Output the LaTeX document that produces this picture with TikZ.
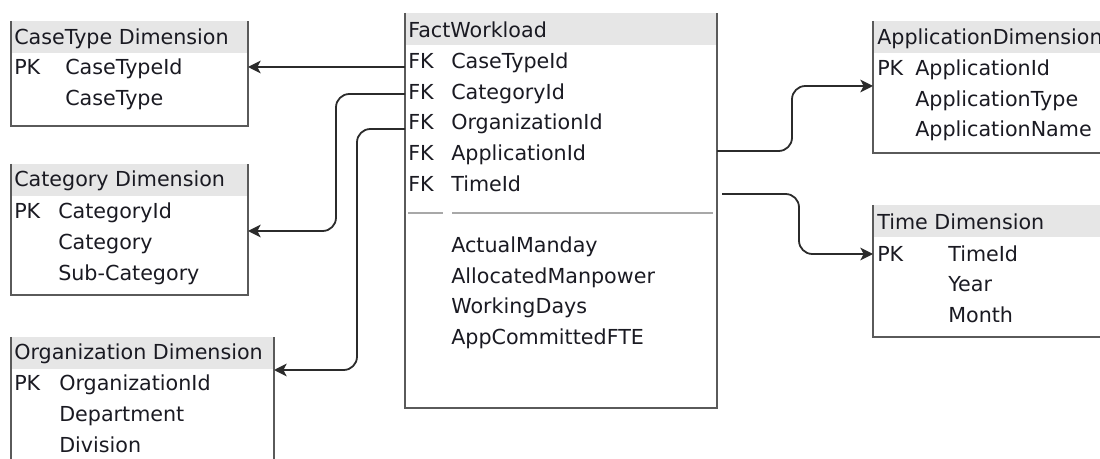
\documentclass[tikz,border=0pt]{standalone}
\usepackage{fontspec}
\setmainfont{DejaVu Sans}
\usetikzlibrary{arrows.meta}
\definecolor{hdr}{HTML}{E6E6E6}
\definecolor{bord}{HTML}{5A5A5A}
\definecolor{connc}{HTML}{2B2B2B}
\definecolor{sepc}{HTML}{A8A8A8}
\definecolor{txtc}{HTML}{1A1A22}
\begin{document}
\begin{tikzpicture}[x=0.75pt,y=-0.75pt,
  tbl/.style={inner sep=0pt,outer sep=0pt,anchor=north west},
  hdrbox/.style={fill=hdr,inner sep=0pt,outer sep=0pt,anchor=north west,minimum height=32*0.75pt},
  txt/.style={anchor=base west,inner sep=0pt,text=txtc,font=\fontsize{15.5}{18}\selectfont},
  border/.style={draw=bord,line width=1.3pt},
  conn/.style={draw=connc,line width=1.35pt,rounded corners=10pt,-{Stealth[length=9.5pt,width=9.5pt,inset=2.5pt]}},
  sepl/.style={draw=sepc,line width=0.9pt},
]
\useasboundingbox (0,0) rectangle (1100,459);
\clip (0,0) rectangle (1100,459);

% ---------- CaseType Dimension
\node[hdrbox,minimum width=237*0.75pt] (cth) at (11,21) {};
\node[tbl,minimum width=237*0.75pt,minimum height=105*0.75pt] (ct) at (11,21) {};
\draw[border] (ct.north west) -- (ct.south west) -- (ct.south east) -- (ct.north east);
\node[txt] (ctt) at (14,45) {CaseType Dimension};
\node[txt] (ctk) at (14,75) {PK};
\node[txt] (ct1) at (65,75) {CaseTypeId};
\node[txt] (ct2) at (65,106) {CaseType};

% ---------- Category Dimension
\node[hdrbox,minimum width=237*0.75pt] (cah) at (11,164) {};
\node[tbl,minimum width=237*0.75pt,minimum height=131*0.75pt] (cat) at (11,164) {};
\draw[border] (cat.north west) -- (cat.south west) -- (cat.south east) -- (cat.north east);
\node[txt] (cat0) at (14,187) {Category Dimension};
\node[txt] (catk) at (14,219) {PK};
\node[txt] (cat1) at (58,219) {CategoryId};
\node[txt] (cat2) at (58,250) {Category};
\node[txt] (cat3) at (58,281) {Sub-Category};

% ---------- Organization Dimension
\node[hdrbox,minimum width=263*0.75pt] (orh) at (11,337) {};
\node[tbl,minimum width=263*0.75pt,minimum height=150*0.75pt] (org) at (11,337) {};
\draw[border] (org.north west) -- (org.south west) -- (org.south east) -- (org.north east);
\node[txt] (org0) at (14,360) {Organization Dimension};
\node[txt] (orgk) at (14,391) {PK};
\node[txt] (org1) at (59,391) {OrganizationId};
\node[txt] (org2) at (59,422) {Department};
\node[txt] (org3) at (59,453) {Division};

% ---------- FactWorkload
\node[hdrbox,minimum width=312*0.75pt] (fah) at (405,13) {};
\node[tbl,minimum width=312*0.75pt,minimum height=395*0.75pt] (fact) at (405,13) {};
\draw[border] (fact.north west) -- (fact.south west) -- (fact.south east) -- (fact.north east);
\node[txt] (f0) at (408,38) {FactWorkload};
\node[txt] (fk1) at (408,69) {FK};
\node[txt] (f1) at (451,69) {CaseTypeId};
\node[txt] (fk2) at (408,100) {FK};
\node[txt] (f2) at (451,100) {CategoryId};
\node[txt] (fk3) at (408,130) {FK};
\node[txt] (f3) at (451,130) {OrganizationId};
\node[txt] (fk4) at (408,161) {FK};
\node[txt] (f4) at (451,161) {ApplicationId};
\node[txt] (fk5) at (408,192) {FK};
\node[txt] (f5) at (451,192) {TimeId};
\draw[sepl] (408,213) -- (443,213);
\draw[sepl] (452,213) -- (713,213);
\node[txt] (m1) at (451,253) {ActualManday};
\node[txt] (m2) at (451,284) {AllocatedManpower};
\node[txt] (m3) at (451,314) {WorkingDays};
\node[txt] (m4) at (451,345) {AppCommittedFTE};

% ---------- ApplicationDimension
\node[hdrbox,minimum width=300*0.75pt] (aph) at (873,21) {};
\node[tbl,minimum width=300*0.75pt,minimum height=132*0.75pt] (app) at (873,21) {};
\draw[border] (app.north west) -- (app.south west) -- (app.south east) -- (app.north east);
\node[txt] (app0) at (877,45) {ApplicationDimension};
\node[txt] (appk) at (877,76) {PK};
\node[txt] (app1) at (915,76) {ApplicationId};
\node[txt] (app2) at (915,107) {ApplicationType};
\node[txt] (app3) at (915,137) {ApplicationName};

% ---------- Time Dimension
\node[hdrbox,minimum width=300*0.75pt] (tih) at (873,205) {};
\node[tbl,minimum width=300*0.75pt,minimum height=132*0.75pt] (time) at (873,205) {};
\draw[border] (time.north west) -- (time.south west) -- (time.south east) -- (time.north east);
\node[txt] (time0) at (877,230) {Time Dimension};
\node[txt] (timek) at (877,262) {PK};
\node[txt] (time1) at (948,262) {TimeId};
\node[txt] (time2) at (948,292) {Year};
\node[txt] (time3) at (948,323) {Month};

% ---------- connectors
\coordinate (y1) at (0,67);
\coordinate (y2) at (0,94);
\coordinate (r2) at (336,231);
\coordinate (y3) at (0,129);
\coordinate (r3) at (357,370);
\coordinate (y4) at (0,151);
\coordinate (r4) at (792,86);
\coordinate (s5) at (722,194);
\coordinate (r5) at (799,254);

\draw[conn] (fact.west |- y1) -- (ct.east |- y1);
\draw[conn] (fact.west |- y2) -| (r2) -- (cat.east |- r2);
\draw[conn] (fact.west |- y3) -| (r3) -- (org.east |- r3);
\draw[conn] (fact.east |- y4) -| (r4) -- (app.west |- r4);
\draw[conn] (s5) -| (r5) -- (time.west |- r5);
\end{tikzpicture}
\end{document}
